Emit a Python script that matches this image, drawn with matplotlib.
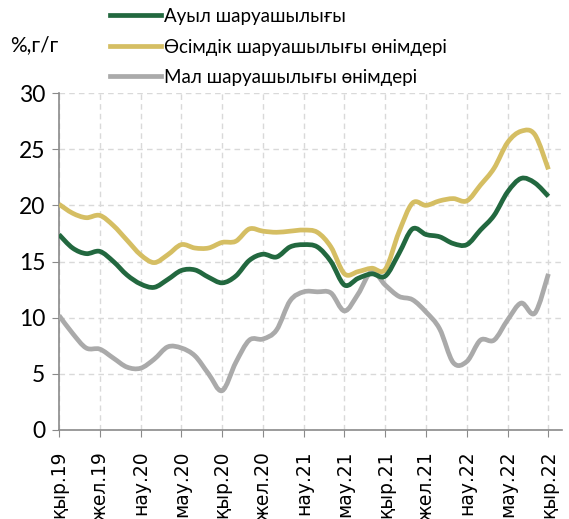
import numpy as np
import matplotlib
matplotlib.use("Agg")
import matplotlib.pyplot as plt
from matplotlib.path import Path
from matplotlib.patches import PathPatch
from matplotlib.lines import Line2D

# ---- data (monthly, Sep 2019 .. Sep 2022), % y/y ----
tick_labels = ["қыр.19", "жел.19", "нау.20", "мау.20", "қыр.20", "жел.20",
               "нау.21", "мау.21", "қыр.21", "жел.21", "нау.22", "мау.22", "қыр.22"]

agri = [17.4, 16.2, 15.7, 15.9, 15.0, 13.8, 13.0, 12.7, 13.4, 14.2,
        14.25, 13.6, 13.1, 13.7, 15.1, 15.65, 15.4, 16.3, 16.5, 16.3,
        15.0, 12.9, 13.5, 13.9, 13.7, 15.7, 17.9, 17.4, 17.2, 16.6,
        16.5, 17.8, 19.1, 21.2, 22.4, 22.0, 20.8]

crop = [20.1, 19.3, 18.9, 19.1, 18.2, 16.9, 15.6, 14.9, 15.6, 16.5,
        16.2, 16.2, 16.7, 16.8, 17.9, 17.7, 17.6, 17.7, 17.8, 17.6,
        16.3, 13.9, 14.1, 14.4, 14.3, 17.6, 20.2, 20.0, 20.4, 20.6,
        20.4, 21.8, 23.3, 25.6, 26.6, 26.3, 23.2]

livestock = [10.2, 8.6, 7.3, 7.2, 6.4, 5.6, 5.5, 6.3, 7.4, 7.3,
             6.6, 5.0, 3.5, 6.0, 8.0, 8.1, 8.9, 11.5, 12.3, 12.3,
             12.2, 10.6, 12.1, 14.1, 12.9, 11.9, 11.6, 10.5, 9.0, 6.0,
             6.1, 8.0, 8.0, 9.8, 11.3, 10.4, 13.9]

series_names = ["Ауыл шаруашылығы", "Өсімдік шаруашылығы өнімдері", "Мал шаруашылығы өнімдері"]
colors = ["#22683F", "#D5BE63", "#AAAAAA"]

plt.rcParams["font.family"] = ["Lato", "Noto Sans", "DejaVu Sans"]

fig = plt.figure(figsize=(5.69, 5.19), dpi=100)
ax = fig.add_axes([59 / 569, 1 - 430 / 519, (562 - 59) / 569, (430 - 93) / 519])

x = np.arange(len(agri))


def smooth_path(xs, ys):
    pts = np.column_stack([xs, ys]).astype(float)
    n = len(pts)
    verts = [pts[0]]
    codes = [Path.MOVETO]
    for i in range(n - 1):
        p0 = pts[max(i - 1, 0)]
        p1 = pts[i]
        p2 = pts[i + 1]
        p3 = pts[min(i + 2, n - 1)]
        c1 = p1 + (p2 - p0) / 6.0
        c2 = p2 - (p3 - p1) / 6.0
        verts += [c1, c2, p2]
        codes += [Path.CURVE4] * 3
    return Path(verts, codes)


lw = 3.4
for vals, col, z in zip([livestock, crop, agri], [colors[2], colors[1], colors[0]], [3, 4, 5]):
    patch = PathPatch(smooth_path(x, vals), facecolor="none", edgecolor=col,
                      lw=lw, capstyle="butt", joinstyle="round", zorder=z,
                      transform=ax.transData)
    ax.add_patch(patch)

ax.set_xlim(0, 37)
ax.set_ylim(0, 30)
ax.set_yticks(np.arange(0, 31, 5))
tick_pos = x[::3]
ax.set_xticks(tick_pos)
ax.set_xticklabels(tick_labels, rotation=90, fontsize=13.5, family="DejaVu Sans",
                   va="top", ha="center")
ax.tick_params(axis="y", labelsize=16.5, length=5, color="#8A8A8A", pad=5)
ax.tick_params(axis="x", length=5, color="#8A8A8A", pad=10)

ax.grid(True, color="#D9D9D9", linestyle=(0, (4, 3)), linewidth=1.0)
ax.set_axisbelow(True)
for s in ["top", "right"]:
    ax.spines[s].set_visible(False)
for s in ["left", "bottom"]:
    ax.spines[s].set_color("#8A8A8A")
    ax.spines[s].set_linewidth(1.2)

fig.text(10 / 569, 1 - 45 / 519, "%,г/г", fontsize=15, va="center", ha="left")

handles = [Line2D([], [], color=c, lw=3.4) for c in colors]
fig.legend(handles, series_names, loc="upper left",
           bbox_to_anchor=(110 / 569, 1 - 8 / 519), frameon=False,
           fontsize=13.5, handlelength=2.7, handletextpad=0.2,
           labelspacing=0.72, borderaxespad=0, borderpad=0)

fig.savefig("out.png", dpi=100)
